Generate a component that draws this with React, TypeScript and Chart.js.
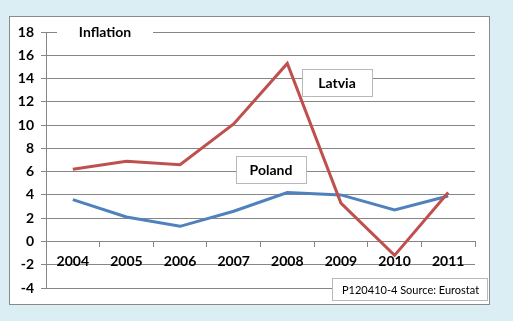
import React, { useEffect, useRef } from "react";
import { Chart, registerables } from "chart.js";

Chart.register(...registerables);

const years = ["2004", "2005", "2006", "2007", "2008", "2009", "2010", "2011"];
const latvia = [6.2, 6.9, 6.6, 10.1, 15.3, 3.3, -1.2, 4.2];
const poland = [3.6, 2.1, 1.3, 2.6, 4.2, 4.0, 2.7, 3.9];
const yTicksMin = -4;
const yTicksMax = 18;
const yStep = 2;
const titleText = "Inflation";
const latviaLabel = "Latvia";
const polandLabel = "Poland";
const sourceText = "P120410-4 Source: Eurostat";

const FONT = "Lato, 'Liberation Sans', sans-serif";

const decorPlugin = {
  id: "decor",
  beforeDraw(chart: any) {
    const ctx = chart.ctx;
    ctx.save();
    ctx.fillStyle = "#dbeef3";
    ctx.fillRect(0, 0, chart.width, chart.height);
    ctx.fillStyle = "#ffffff";
    ctx.fillRect(10, 16, 480, 288);
    ctx.strokeStyle = "#8a8a8a";
    ctx.lineWidth = 1;
    ctx.strokeRect(9.5, 16.5, 480, 288);
    ctx.restore();
  },
  beforeDatasetsDraw(chart: any) {
    const ctx = chart.ctx;
    ctx.save();
    // title box (covers gridline)
    ctx.fillStyle = "#ffffff";
    ctx.fillRect(57, 20, 96, 24);
    ctx.fillStyle = "#000000";
    ctx.font = `bold 14px ${FONT}`;
    ctx.textAlign = "center";
    ctx.textBaseline = "middle";
    ctx.fillText(titleText, 105, 32);

    const box = (x: number, y: number, w: number, h: number, text: string, font: string, align: string, tx: number) => {
      ctx.fillStyle = "#ffffff";
      ctx.fillRect(x, y, w, h);
      ctx.strokeStyle = "#b8b8b8";
      ctx.lineWidth = 1;
      ctx.strokeRect(x + 0.5, y + 0.5, w, h);
      ctx.fillStyle = "#000000";
      ctx.font = font;
      ctx.textAlign = align;
      ctx.textBaseline = "middle";
      ctx.fillText(text, tx, y + h / 2 + 1);
    };
    box(302, 69, 70, 27, latviaLabel, `bold 14px ${FONT}`, "center", 337);
    box(236, 156, 70, 27, polandLabel, `bold 14px ${FONT}`, "center", 271);
    box(332, 278, 155, 22, sourceText, `11px ${FONT}`, "left", 342);
    ctx.restore();
  },
};

export default function App() {
  const ref = useRef<HTMLCanvasElement>(null);
  useEffect(() => {
    const canvas = ref.current!;
    const chart = new Chart(canvas, {
      type: "line",
      data: {
        labels: years,
        datasets: [
          {
            label: "Latvia",
            data: latvia,
            borderColor: "#c0504d",
            backgroundColor: "#c0504d",
            borderWidth: 3,
            pointRadius: 0,
            tension: 0,
          },
          {
            label: "Poland",
            data: poland,
            borderColor: "#4f81bd",
            backgroundColor: "#4f81bd",
            borderWidth: 3,
            pointRadius: 0,
            tension: 0,
          },
        ],
      },
      options: {
        responsive: false,
        animation: false,
        events: [],
        layout: { padding: { left: 0, top: 32, right: 38, bottom: 33 } },
        plugins: { legend: { display: false }, tooltip: { enabled: false } },
        scales: {
          x: {
            type: "category",
            position: { y: 0 },
            offset: true,
            grid: {
              offset: true,
              drawOnChartArea: false,
              drawTicks: true,
              tickLength: 5,
              color: "#868686",
            },
            border: { display: true, color: "#868686" },
            ticks: {
              color: "#000000",
              font: { family: FONT, size: 14, weight: "bold" },
              padding: 7,
              maxRotation: 0,
              autoSkip: false,
            },
          },
          y: {
            min: yTicksMin,
            max: yTicksMax,
            grid: { color: "#868686", tickLength: 5 },
            border: { display: true, color: "#868686" },
            ticks: {
              stepSize: yStep,
              color: "#000000",
              font: { family: FONT, size: 14, weight: "bold" },
              padding: 7,
            },
            afterFit(scale: any) {
              scale.width = 46;
            },
          },
        },
      },
      plugins: [decorPlugin],
    } as any);
    return () => chart.destroy();
  }, []);
  return (
    <div style={{ position: "absolute", left: 0, top: 0, width: 513, height: 321 }}>
      <canvas ref={ref} width={513} height={321} style={{ display: "block" }} />
    </div>
  );
}
